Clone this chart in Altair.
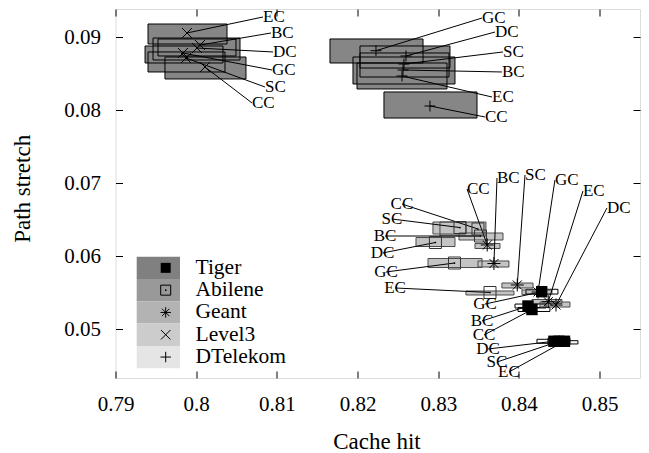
import altair as alt
import pandas as pd

# ---------------- data ----------------
topologies = ["Tiger", "Abilene", "Geant", "Level3", "DTelekom"]

topology = (["Tiger"] * 6 + ["Abilene"] * 6 + ["Geant"] * 6
            + ["Level3"] * 6 + ["DTelekom"] * 6)
strategy = ["GC", "BC", "CC", "DC", "SC", "EC",
            "CC", "SC", "BC", "DC", "GC", "EC",
            "CC", "BC", "SC", "GC", "EC", "DC",
            "EC", "BC", "DC", "GC", "SC", "CC",
            "GC", "DC", "SC", "BC", "EC", "CC"]
cache_hit = [0.84282, 0.84112, 0.84161, 0.84434, 0.84496, 0.84564,
             0.83492, 0.83269, 0.83523, 0.82965, 0.83201, 0.83641,
             0.83607, 0.83690, 0.83979, 0.84236, 0.84363, 0.84459,
             0.79886, 0.80047, 0.80010, 0.79836, 0.79874, 0.80109,
             0.82228, 0.82600, 0.82575, 0.82563, 0.82550, 0.82897]
path_stretch = [0.05511, 0.05315, 0.05267, 0.04832, 0.04832, 0.04832,
                0.06370, 0.06390, 0.06274, 0.06185, 0.05904, 0.05500,
                0.06151, 0.05897, 0.05603, 0.05507, 0.05374, 0.05329,
                0.09055, 0.08890, 0.08849, 0.08781, 0.08712, 0.08589,
                0.08812, 0.08740, 0.08630, 0.08548, 0.08466, 0.08055]
hit_lo = [0.84087, 0.83951, 0.83988, 0.84223, 0.84360, 0.84459,
          0.83021, 0.82934, 0.83257, 0.82724, 0.82873, 0.83343,
          0.83455, 0.83492, 0.83789, 0.84037, 0.84161, 0.84260,
          0.79403, 0.79465, 0.79527, 0.79366, 0.79403, 0.79613,
          0.81658, 0.82030, 0.81943, 0.82030, 0.81993, 0.82327]
hit_hi = [0.84483, 0.84335, 0.84384, 0.84508, 0.84632, 0.84731,
          0.83591, 0.83343, 0.83802, 0.83207, 0.83542, 0.83938,
          0.83765, 0.83876, 0.84174, 0.84409, 0.84533, 0.84632,
          0.80382, 0.80543, 0.80493, 0.80332, 0.80357, 0.80617,
          0.82811, 0.83145, 0.83207, 0.83133, 0.83108, 0.83480]
stretch_lo = [0.05479, 0.05288, 0.05240, 0.04804, 0.04788, 0.04795,
              0.06274, 0.06301, 0.06219, 0.06130, 0.05842, 0.05466,
              0.06103, 0.05849, 0.05562, 0.05473, 0.05349, 0.05301,
              0.08904, 0.08685, 0.08740, 0.08644, 0.08521, 0.08425,
              0.08644, 0.08575, 0.08356, 0.08452, 0.08288, 0.07890]
stretch_hi = [0.05544, 0.05342, 0.05295, 0.04859, 0.04877, 0.04840,
              0.06466, 0.06466, 0.06315, 0.06253, 0.05966, 0.05521,
              0.06171, 0.05932, 0.05630, 0.05534, 0.05404, 0.05370,
              0.09178, 0.08986, 0.08973, 0.08877, 0.08795, 0.08726,
              0.08973, 0.08877, 0.08726, 0.08781, 0.08644, 0.08247]
label_x = [0.83579, 0.83542, 0.83567, 0.83616, 0.83728, 0.83876,
           0.82550, 0.82426, 0.82340, 0.82309, 0.82352, 0.82464,
           0.83356, 0.83728, 0.84075, 0.84446, 0.84793, 0.85091,
           0.80828, 0.80927, 0.80952, 0.80939, 0.80853, 0.80692,
           0.83542, 0.83703, 0.83802, 0.83789, 0.83666, 0.83579]
label_y = [0.05342, 0.05110, 0.04918, 0.04726, 0.04548, 0.04411,
           0.06712, 0.06507, 0.06274, 0.06041, 0.05781, 0.05562,
           0.06918, 0.07068, 0.07110, 0.07041, 0.06890, 0.06658,
           0.09274, 0.09055, 0.08795, 0.08548, 0.08315, 0.08096,
           0.09260, 0.09068, 0.08795, 0.08521, 0.08178, 0.07904]

x_ticks = [0.79, 0.8, 0.81, 0.82, 0.83, 0.84, 0.85]
y_ticks = [0.05, 0.06, 0.07, 0.08, 0.09]

# ---------------- styles ----------------
FONT = "Liberation Serif"
box_fill = ["#ffffff", "#c4c4c4", "#c4c4c4", "#868686", "#868686"]
box_stroke = ["#000000", "#4a4a4a", "#4a4a4a", "#000000", "#000000"]
swatch = ["#808080", "#999999", "#b3b3b3", "#cccccc", "#e5e5e5"]

ASTER = "M-1,0L1,0M0,-1L0,1M-0.7,-0.7L0.7,0.7M-0.7,0.7L0.7,-0.7"
XMARK = "M-1,-1L1,1M-1,1L1,-1"
PLUS = "M-1,0L1,0M0,-1L0,1"

df = pd.DataFrame({
    "topology": topology, "strategy": strategy,
    "cache_hit": cache_hit, "path_stretch": path_stretch,
    "hit_lo": hit_lo, "hit_hi": hit_hi,
    "stretch_lo": stretch_lo, "stretch_hi": stretch_hi,
    "label_x": label_x, "label_y": label_y,
})

xs = alt.Scale(domain=[0.79, 0.855], nice=False, zero=False)
ys = alt.Scale(domain=[0.043288, 0.093836], nice=False, zero=False)

common_axis = dict(offset=-7, tickSize=7, domain=False, grid=False,
                   tickColor="black", labelColor="black", labelFont=FONT,
                   labelFontSize=21, labelFlush=False, labelOverlap=False)

x_axis = alt.Axis(values=x_ticks, format="~g", orient="bottom",
                  labelPadding=15.5, title="Cache hit", titleFont=FONT,
                  titleFontSize=23, titleFontWeight="normal", titleColor="black",
                  titleX=261, titleY=70.7, titleBaseline="middle",
                  titleAlign="center", **common_axis)
y_axis = alt.Axis(values=y_ticks, format="~g", orient="left",
                  labelPadding=15, title="Path stretch", titleFont=FONT,
                  titleFontSize=23, titleFontWeight="normal", titleColor="black",
                  titleX=-100, titleY=179.3, titleBaseline="middle",
                  titleAlign="center", **common_axis)
x_top = alt.Axis(values=x_ticks, orient="top", labels=False, title=None,
                 offset=-7, tickSize=7, domain=False, grid=False, tickColor="black")
y_right = alt.Axis(values=y_ticks, orient="right", labels=False, title=None,
                   offset=-7, tickSize=7, domain=False, grid=False, tickColor="black")


def xq(f, axis=None):
    return alt.X(f"{f}:Q", scale=xs, axis=axis)


def yq(f, axis=None):
    return alt.Y(f"{f}:Q", scale=ys, axis=axis)


base = alt.Chart(df)

box_fills = base.mark_rect(strokeWidth=0).encode(
    x=xq("hit_lo", x_axis), x2="hit_hi",
    y=yq("stretch_lo", y_axis), y2="stretch_hi",
    fill=alt.Fill("topology:N", scale=alt.Scale(domain=topologies, range=box_fill),
                  legend=None),
)
box_borders = base.mark_rect(fillOpacity=0, strokeWidth=1).encode(
    x=xq("hit_lo"), x2="hit_hi",
    y=yq("stretch_lo"), y2="stretch_hi",
    stroke=alt.Stroke("topology:N",
                      scale=alt.Scale(domain=topologies, range=box_stroke),
                      legend=None),
)
mirror = base.mark_point(opacity=0).encode(
    x=xq("cache_hit", x_top), y=yq("path_stretch", y_right))

leaders = base.mark_rule(color="black", strokeWidth=1).encode(
    x=xq("label_x"), y=yq("label_y"), x2="cache_hit", y2="path_stretch")


def pts(topo):
    return base.transform_filter(alt.datum.topology == topo)


markers = [
    pts("Tiger").mark_square(size=130, color="black", opacity=1).encode(
        x=xq("cache_hit"), y=yq("path_stretch")),
    pts("Abilene").mark_point(shape="square", size=144, filled=False,
                              color="#333333", strokeWidth=1, opacity=1).encode(
        x=xq("cache_hit"), y=yq("path_stretch")),
    pts("Abilene").mark_circle(size=3, color="black", opacity=1).encode(
        x=xq("cache_hit"), y=yq("path_stretch")),
    pts("Geant").mark_point(shape=ASTER, size=169, filled=False,
                            color="black", strokeWidth=1, opacity=1).encode(
        x=xq("cache_hit"), y=yq("path_stretch")),
    pts("Level3").mark_point(shape=XMARK, size=100, filled=False,
                             color="black", strokeWidth=1, opacity=1).encode(
        x=xq("cache_hit"), y=yq("path_stretch")),
    pts("DTelekom").mark_point(shape=PLUS, size=121, filled=False,
                               color="black", strokeWidth=1, opacity=1).encode(
        x=xq("cache_hit"), y=yq("path_stretch")),
]

labels_left = base.transform_filter(
    "datum.topology == 'Geant' || datum.topology == 'Level3' || datum.topology == 'DTelekom'"
).mark_text(align="left", baseline="middle", font=FONT, fontSize=17,
            color="black").encode(x=xq("label_x"), y=yq("label_y"),
                                  text="strategy:N")
labels_center = base.transform_filter(
    "datum.topology == 'Tiger' || datum.topology == 'Abilene'"
).mark_text(align="center", baseline="middle", font=FONT, fontSize=17,
            color="black").encode(x=xq("label_x"), y=yq("label_y"),
                                  text="strategy:N")

# ---------------- legend (key box in the lower left) ----------------
legend_layers = []
row_h = 22.3
for i, name in enumerate(topologies):
    top = 247.7 + i * row_h
    cy = top + row_h / 2
    one = alt.Chart(pd.DataFrame({"name": [name]}))
    legend_layers.append(one.mark_rect(color=swatch[i]).encode(
        x=alt.value(21.2), x2=alt.value(64.5), y=alt.value(top),
        y2=alt.value(top + row_h)))
    mx, my = alt.value(50.2), alt.value(cy)
    if name == "Tiger":
        legend_layers.append(one.mark_square(size=100, color="black", opacity=1)
                             .encode(x=mx, y=my))
    elif name == "Abilene":
        legend_layers.append(one.mark_point(shape="square", size=100, filled=False,
                                            color="black", strokeWidth=1, opacity=1)
                             .encode(x=mx, y=my))
        legend_layers.append(one.mark_circle(size=3, color="black", opacity=1)
                             .encode(x=mx, y=my))
    elif name == "Geant":
        legend_layers.append(one.mark_point(shape=ASTER, size=110, filled=False,
                                            color="black", strokeWidth=1, opacity=1)
                             .encode(x=mx, y=my))
    elif name == "Level3":
        legend_layers.append(one.mark_point(shape=XMARK, size=90, filled=False,
                                            color="black", strokeWidth=1, opacity=1)
                             .encode(x=mx, y=my))
    else:
        legend_layers.append(one.mark_point(shape=PLUS, size=110, filled=False,
                                            color="black", strokeWidth=1, opacity=1)
                             .encode(x=mx, y=my))
    legend_layers.append(one.mark_text(align="left", baseline="middle", font=FONT,
                                       fontSize=21.5, color="black").encode(
        x=alt.value(80), y=alt.value(cy), text=alt.value(name)))

chart = alt.layer(
    box_fills, box_borders, mirror, leaders, *markers,
    labels_left, labels_center, *legend_layers,
).resolve_axis(x="independent", y="independent").properties(
    width=524.5, height=369,
    autosize=alt.AutoSizeParams(type="none"),
    padding={"left": 107.5, "top": 1, "right": 1, "bottom": 80},
).configure_view(stroke="black", strokeWidth=1).configure(
    font=FONT, background="white")

chart.save("out.html", embed_options={"renderer": "svg", "actions": False})
